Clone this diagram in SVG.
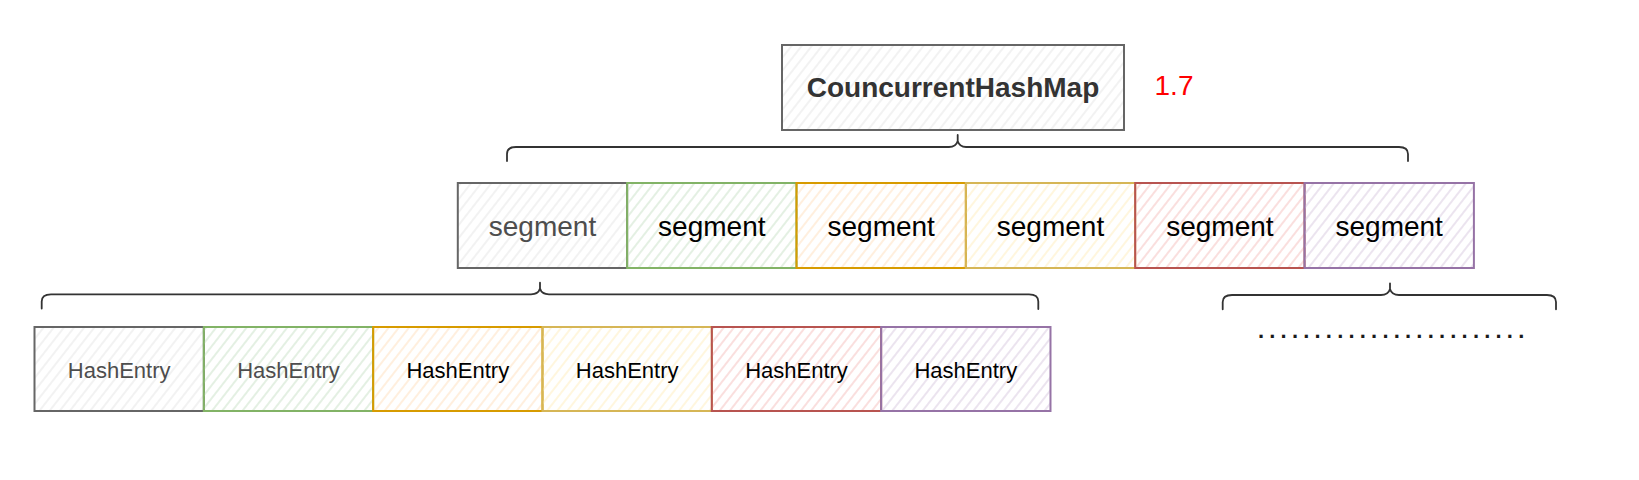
<svg xmlns="http://www.w3.org/2000/svg" width="1639" height="480" viewBox="0 0 1639 480">
  <defs>
    <pattern id="hGray" patternUnits="userSpaceOnUse" width="8" height="8" patternTransform="rotate(38)">
      <line x1="4" y1="0" x2="4" y2="8" stroke="#ebebeb" stroke-width="1.3"/>
    </pattern>
    <pattern id="hGreen" patternUnits="userSpaceOnUse" width="8" height="8" patternTransform="rotate(38)">
      <line x1="4" y1="0" x2="4" y2="8" stroke="#d5e8d4" stroke-width="1.3"/>
    </pattern>
    <pattern id="hOrange" patternUnits="userSpaceOnUse" width="8" height="8" patternTransform="rotate(38)">
      <line x1="4" y1="0" x2="4" y2="8" stroke="#ffe6cc" stroke-width="1.3"/>
    </pattern>
    <pattern id="hYellow" patternUnits="userSpaceOnUse" width="8" height="8" patternTransform="rotate(38)">
      <line x1="4" y1="0" x2="4" y2="8" stroke="#fff2cc" stroke-width="1.3"/>
    </pattern>
    <pattern id="hRed" patternUnits="userSpaceOnUse" width="8" height="8" patternTransform="rotate(38)">
      <line x1="4" y1="0" x2="4" y2="8" stroke="#f8cecc" stroke-width="1.3"/>
    </pattern>
    <pattern id="hPurple" patternUnits="userSpaceOnUse" width="8" height="8" patternTransform="rotate(38)">
      <line x1="4" y1="0" x2="4" y2="8" stroke="#e1d5e7" stroke-width="1.3"/>
    </pattern>
  </defs>
  <style>
    rect { stroke-width: 2; }
    .gray { fill: url(#hGray); stroke: #666666; }
    .green { fill: url(#hGreen); stroke: #82b366; }
    .orange { fill: url(#hOrange); stroke: #d79b00; }
    .yellow { fill: url(#hYellow); stroke: #d6b656; }
    .red { fill: url(#hRed); stroke: #b85450; }
    .purple { fill: url(#hPurple); stroke: #9673a6; }
    text { font-family: "Liberation Sans", Arial, sans-serif; text-anchor: middle; }
    .title { font-size: 28px; font-weight: bold; fill: #333333; }
    .seg { font-size: 28px; fill: #000000; }
    .he { font-size: 22px; fill: #000000; }
    .dim { fill: #4d4d4d; }
    .brace { fill: none; stroke: #333333; stroke-width: 1.8; stroke-linecap: round; stroke-linejoin: round; }
  </style>
  <rect x="0" y="0" width="1639" height="480" fill="#ffffff"/>

  <g id="connectors">
    <path class="brace" d="M507,161 L507,154 Q507,147 516,147 L949,147 Q956,147 957.7,141 L957.7,135 M957.7,141 Q959.5,147 966,147 L1399,147 Q1408,147 1408,154 L1408,161"/>
    <path class="brace" d="M41.7,308.5 L41.7,301.5 Q41.7,294.3 51,294.3 L531,294.3 Q538.3,294.3 540,288.5 L540,282.7 M540,288.5 Q541.7,294.3 549,294.3 L1029,294.3 Q1038.3,294.3 1038.3,301.5 L1038.3,309"/>
    <path class="brace" d="M1222.7,309.3 L1222.7,302 Q1222.7,295 1232,295 L1381,295 Q1388.3,295 1390,289 L1390,283.3 M1390,289 Q1391.7,295 1399,295 L1547,295 Q1556,295 1556,302 L1556,309.3"/>
  </g>

  <g id="node-chm">
    <rect class="gray" x="782" y="45" width="342" height="85"/>
    <text class="title" x="953" y="97">CouncurrentHashMap</text>
  </g>
  <g id="label-version">
    <text x="1174" y="95" style="font-size:28px;fill:#ff0000">1.7</text>
  </g>

  <g id="segment-1">
    <rect class="gray" x="457.8" y="183" width="169.35" height="85"/>
    <text class="seg dim" x="542.5" y="235.5">segment</text>
  </g>
  <g id="segment-2">
    <rect class="green" x="627.15" y="183" width="169.35" height="85"/>
    <text class="seg" x="711.8" y="235.5">segment</text>
  </g>
  <g id="segment-3">
    <rect class="orange" x="796.5" y="183" width="169.35" height="85"/>
    <text class="seg" x="881.2" y="235.5">segment</text>
  </g>
  <g id="segment-4">
    <rect class="yellow" x="965.85" y="183" width="169.35" height="85"/>
    <text class="seg" x="1050.5" y="235.5">segment</text>
  </g>
  <g id="segment-5">
    <rect class="red" x="1135.2" y="183" width="169.35" height="85"/>
    <text class="seg" x="1219.9" y="235.5">segment</text>
  </g>
  <g id="segment-6">
    <rect class="purple" x="1304.55" y="183" width="169.35" height="85"/>
    <text class="seg" x="1389.2" y="235.5">segment</text>
  </g>

  <g id="hashentry-1">
    <rect class="gray" x="34.5" y="327" width="169.33" height="84"/>
    <text class="he dim" x="119.2" y="377.5">HashEntry</text>
  </g>
  <g id="hashentry-2">
    <rect class="green" x="203.83" y="327" width="169.33" height="84"/>
    <text class="he dim" x="288.5" y="377.5">HashEntry</text>
  </g>
  <g id="hashentry-3">
    <rect class="orange" x="373.16" y="327" width="169.33" height="84"/>
    <text class="he" x="457.8" y="377.5">HashEntry</text>
  </g>
  <g id="hashentry-4">
    <rect class="yellow" x="542.5" y="327" width="169.33" height="84"/>
    <text class="he" x="627.2" y="377.5">HashEntry</text>
  </g>
  <g id="hashentry-5">
    <rect class="red" x="711.83" y="327" width="169.33" height="84"/>
    <text class="he" x="796.5" y="377.5">HashEntry</text>
  </g>
  <g id="hashentry-6">
    <rect class="purple" x="881.16" y="327" width="169.33" height="84"/>
    <text class="he" x="965.8" y="377.5">HashEntry</text>
  </g>

  <g id="ellipsis">
    <text x="1258" y="338" style="font-size:22px;font-weight:bold;fill:#1a1a1a;text-anchor:start;letter-spacing:5.2px">........................</text>
  </g>
</svg>
